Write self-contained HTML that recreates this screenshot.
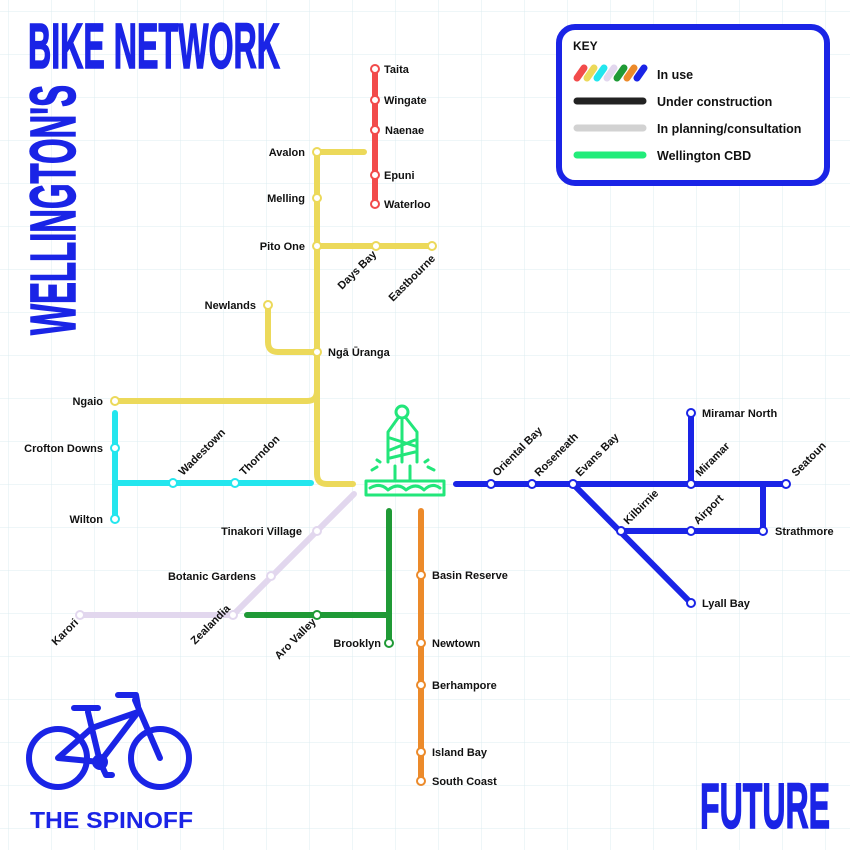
<!DOCTYPE html>
<html><head><meta charset="utf-8"><style>
html,body{margin:0;padding:0;background:#fff}
svg{display:block}
text{font-family:"Liberation Sans",sans-serif;font-weight:bold;font-size:11px;fill:#111}
</style></head><body>
<svg width="850" height="850" viewBox="0 0 850 850" xmlns="http://www.w3.org/2000/svg">
<defs>
<pattern id="g" width="43" height="43" patternUnits="userSpaceOnUse" x="9" y="12">
<path d="M43 0V43M0 43H43" stroke="#dcecf0" stroke-width="1" fill="none"/></pattern>
</defs>
<rect width="850" height="850" fill="#fff"/>
<rect width="850" height="850" fill="url(#g)"/>

<!-- titles -->
<text x="28" y="68" style="font-family:'Liberation Sans Narrow','Liberation Sans',sans-serif;font-size:64px;fill:#1a24e6;stroke:#1a24e6;stroke-width:1.5" textLength="252" lengthAdjust="spacingAndGlyphs">BIKE NETWORK</text>
<text transform="translate(75,335) rotate(-90)" style="font-family:'Liberation Sans Narrow','Liberation Sans',sans-serif;font-size:64px;fill:#1a24e6;stroke:#1a24e6;stroke-width:1.5" textLength="250" lengthAdjust="spacingAndGlyphs">WELLINGTON'S</text>
<text x="700" y="828" style="font-family:'Liberation Sans Narrow','Liberation Sans',sans-serif;font-size:64px;fill:#1a24e6;stroke:#1a24e6;stroke-width:1.5" textLength="130" lengthAdjust="spacingAndGlyphs">FUTURE</text>
<text x="30" y="828" style="font-size:23px;fill:#1a24e6" textLength="163" lengthAdjust="spacingAndGlyphs">THE SPINOFF</text>

<!-- key -->
<rect x="559" y="27" width="268" height="156" rx="16" fill="#fff" stroke="#1a24e6" stroke-width="6"/>
<text x="573" y="50" style="font-size:12px">KEY</text>
<g stroke-width="7" stroke-linecap="round">
<line x1="577" y1="78" x2="584" y2="68" stroke="#f24b4b"/>
<line x1="587" y1="78" x2="594" y2="68" stroke="#ecd95a"/>
<line x1="597" y1="78" x2="604" y2="68" stroke="#23e6ee"/>
<line x1="607" y1="78" x2="614" y2="68" stroke="#e2d7ee"/>
<line x1="617" y1="78" x2="624" y2="68" stroke="#1f9a36"/>
<line x1="627" y1="78" x2="634" y2="68" stroke="#ec8a2a"/>
<line x1="637" y1="78" x2="644" y2="68" stroke="#1a24e6"/>
<line x1="577" y1="101" x2="643" y2="101" stroke="#222"/>
<line x1="577" y1="128" x2="643" y2="128" stroke="#d2d2d2"/>
<line x1="577" y1="155" x2="643" y2="155" stroke="#22ec7a"/>
</g>
<text x="657" y="79" style="font-size:12.5px">In use</text>
<text x="657" y="106" style="font-size:12.5px">Under construction</text>
<text x="657" y="133" style="font-size:12.5px">In planning/consultation</text>
<text x="657" y="160" style="font-size:12.5px">Wellington CBD</text>

<!-- lines -->
<g fill="none" stroke-width="6" stroke-linecap="round" stroke-linejoin="round">
<path d="M375 69V204" stroke="#f24b4b"/>
<path d="M364 152H317V474Q317 484 327 484H353" stroke="#ecd95a"/>
<path d="M317 246H432" stroke="#ecd95a"/>
<path d="M268 305V342Q268 352 278 352H317" stroke="#ecd95a"/>
<path d="M115 401H307Q317 401 317 391" stroke="#ecd95a"/>
<path d="M115 413V519M115 483H311" stroke="#23e6ee"/>
<path d="M354 494L233 615H80" stroke="#e2d7ee"/>
<path d="M389 511V643M247 615H389" stroke="#1f9a36"/>
<path d="M421 511V781" stroke="#ec8a2a"/>
<path d="M456 484H786M691 413V484M573 484L691 603M621 531H763V484" stroke="#1a24e6"/>
</g>
<!-- stations -->
<g fill="#fff" stroke-width="2">
<g stroke="#f24b4b"><circle cx="375" cy="69" r="4"/><circle cx="375" cy="100" r="4"/><circle cx="375" cy="130" r="4"/><circle cx="375" cy="175" r="4"/><circle cx="375" cy="204" r="4"/></g>
<g stroke="#ecd95a"><circle cx="317" cy="152" r="4"/><circle cx="317" cy="198" r="4"/><circle cx="317" cy="246" r="4"/><circle cx="376" cy="246" r="4"/><circle cx="432" cy="246" r="4"/><circle cx="268" cy="305" r="4"/><circle cx="317" cy="352" r="4"/><circle cx="115" cy="401" r="4"/></g>
<g stroke="#23e6ee"><circle cx="115" cy="448" r="4"/><circle cx="115" cy="519" r="4"/><circle cx="173" cy="483" r="4"/><circle cx="235" cy="483" r="4"/></g>
<g stroke="#e2d7ee"><circle cx="317" cy="531" r="4"/><circle cx="271" cy="576" r="4"/><circle cx="233" cy="615" r="4"/><circle cx="80" cy="615" r="4"/></g>
<g stroke="#1f9a36"><circle cx="317" cy="615" r="4"/><circle cx="389" cy="643" r="4"/></g>
<g stroke="#ec8a2a"><circle cx="421" cy="575" r="4"/><circle cx="421" cy="643" r="4"/><circle cx="421" cy="685" r="4"/><circle cx="421" cy="752" r="4"/><circle cx="421" cy="781" r="4"/></g>
<g stroke="#1a24e6"><circle cx="491" cy="484" r="4"/><circle cx="532" cy="484" r="4"/><circle cx="573" cy="484" r="4"/><circle cx="691" cy="484" r="4"/><circle cx="786" cy="484" r="4"/><circle cx="691" cy="413" r="4"/><circle cx="621" cy="531" r="4"/><circle cx="691" cy="531" r="4"/><circle cx="763" cy="531" r="4"/><circle cx="691" cy="603" r="4"/></g>
</g>
<!-- labels -->
<text x="384" y="73">Taita</text><text x="384" y="104">Wingate</text><text x="385" y="134">Naenae</text><text x="384" y="179">Epuni</text><text x="384" y="208">Waterloo</text>
<text x="305" y="156" text-anchor="end">Avalon</text><text x="305" y="202" text-anchor="end">Melling</text><text x="305" y="250" text-anchor="end">Pito One</text>
<text x="256" y="309" text-anchor="end">Newlands</text><text x="328" y="356">Ngā Ūranga</text><text x="103" y="405" text-anchor="end">Ngaio</text>
<text x="103" y="452" text-anchor="end">Crofton Downs</text><text x="103" y="523" text-anchor="end">Wilton</text>
<text x="302" y="535" text-anchor="end">Tinakori Village</text><text x="256" y="580" text-anchor="end">Botanic Gardens</text>
<text x="381" y="647" text-anchor="end">Brooklyn</text>
<text x="432" y="579">Basin Reserve</text><text x="432" y="647">Newtown</text><text x="432" y="689">Berhampore</text><text x="432" y="756">Island Bay</text><text x="432" y="785">South Coast</text>
<text x="702" y="417">Miramar North</text><text x="775" y="535">Strathmore</text><text x="702" y="607">Lyall Bay</text>
<text transform="translate(342,290) rotate(-45)">Days Bay</text>
<text transform="translate(393,302) rotate(-45)">Eastbourne</text>
<text transform="translate(183,476) rotate(-45)">Wadestown</text>
<text transform="translate(244,476) rotate(-45)">Thorndon</text>
<text transform="translate(56,646) rotate(-45)">Karori</text>
<text transform="translate(195,645) rotate(-45)">Zealandia</text>
<text transform="translate(279,660) rotate(-45)">Aro Valley</text>
<text transform="translate(497,477) rotate(-45)">Oriental Bay</text>
<text transform="translate(539,477) rotate(-45)">Roseneath</text>
<text transform="translate(580,477) rotate(-45)">Evans Bay</text>
<text transform="translate(700,477) rotate(-45)">Miramar</text>
<text transform="translate(796,477) rotate(-45)">Seatoun</text>
<text transform="translate(628,525) rotate(-45)">Kilbirnie</text>
<text transform="translate(698,525) rotate(-45)">Airport</text>

<!-- CBD icon -->
<g fill="none" stroke="#22e67a" stroke-width="3" stroke-linecap="round" stroke-linejoin="round">
<circle cx="402" cy="412" r="6"/>
<path d="M398 418L388 432V462M406 418L417 432V462M390 438L415 446M390 450L415 440M390 458L415 452M402 420V462"/>
<path d="M380 462L377 460M425 462L428 460M377 467L372 470M428 467L434 470"/>
<rect x="366" y="481" width="78" height="14"/>
<path d="M370 488Q380 482 388 490Q398 482 406 490Q416 482 424 490Q432 482 440 488"/>
<path d="M395 466V480M410 466V480"/>
</g>

<!-- bike -->
<g fill="none" stroke="#1a24e6" stroke-width="6" stroke-linecap="round" stroke-linejoin="round">
<circle cx="58" cy="758" r="29"/>
<circle cx="160" cy="758" r="29"/>
<path d="M88 712L100 762L58 758L92 728L138 712L100 762"/>
<path d="M135 700L160 758"/>
<path d="M118 695H136L138 706"/>
<path d="M74 708H98"/>
<circle cx="100" cy="762" r="5"/>
<path d="M100 762L106 775H112"/>
</g>
</svg>
</body></html>
